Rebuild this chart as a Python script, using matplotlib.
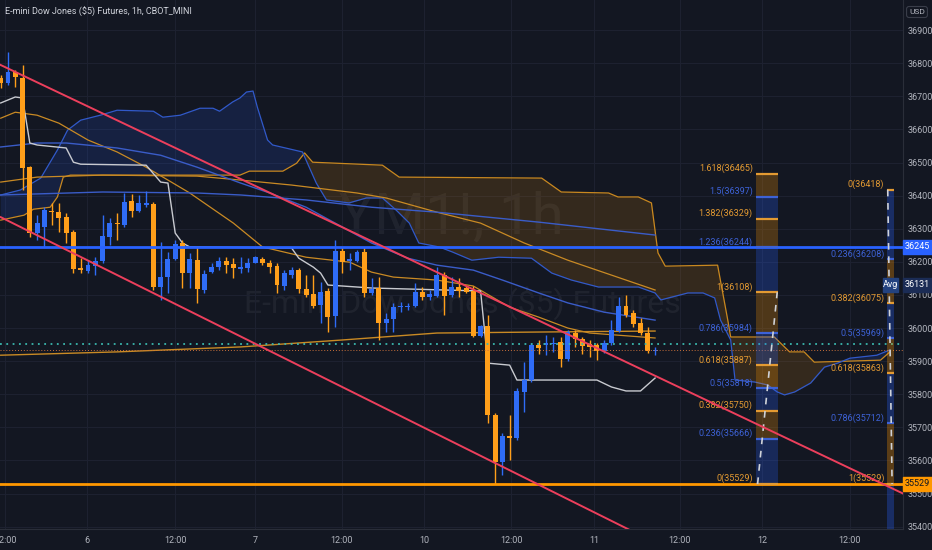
import numpy as np
import matplotlib
matplotlib.use('Agg')
import matplotlib.pyplot as plt
from matplotlib import font_manager as fm
from matplotlib.patches import Rectangle


def pick_font(names):
    for n in names:
        try:
            fm.findfont(n, fallback_to_default=False)
            return n
        except Exception:
            pass
    return 'DejaVu Sans'


NARROW = pick_font(['Liberation Sans Narrow', 'Roboto', 'DejaVu Sans'])
plt.rcParams['font.family'] = [NARROW, 'DejaVu Sans']

BG = '#131722'
BLUE = '#2962ff'
ORANGE = '#ff9800'
TXT = '#b2b5be'

# ---- candles (1h bars), index = bar number ----
opens = [36755, 36740, 36773, 36755, 36486, 36287, 36305, 36353, 36350, 36335,
         36290, 36181, 36172, 36187, 36202, 36275, 36317, 36311, 36384, 36353,
         36371, 36374, 36124, 36154, 36208, 36257, 36166, 36205, 36115, 36169,
         36184, 36202, 36193, 36178, 36181, 36196, 36208, 36196, 36187, 36127,
         36160, 36175, 36118, 36103, 36069, 36112, 36036, 36233, 36202, 36202,
         36230, 36106, 36121, 36015, 36027, 36063, 36063, 36066, 36109, 36094,
         36097, 36160, 36100, 36124, 36121, 36112, 35976, 36006, 35737, 35595,
         35674, 35668, 35807, 35843, 35949, 35949, 35952, 35958, 35906, 35985,
         35967, 35952, 35949, 35931, 35955, 35991, 36066, 36045, 36015, 35985, 35931]
highs = [36764, 36834, 36779, 36794, 36490, 36341, 36365, 36378, 36378, 36347,
         36296, 36211, 36205, 36214, 36341, 36332, 36347, 36408, 36405, 36402,
         36414, 36381, 36260, 36230, 36266, 36266, 36227, 36245, 36175, 36196,
         36214, 36214, 36211, 36214, 36211, 36217, 36214, 36205, 36196, 36175,
         36184, 36181, 36160, 36160, 36139, 36121, 36266, 36245, 36227, 36236,
         36245, 36151, 36154, 36045, 36076, 36079, 36076, 36136, 36124, 36115,
         36184, 36169, 36154, 36151, 36127, 36127, 36009, 36039, 35743, 35683,
         35737, 35819, 35897, 35955, 35964, 35979, 35973, 35973, 35994, 35994,
         35973, 35964, 35955, 35964, 36024, 36094, 36100, 36054, 36030, 36003, 35943]
lows = [36725, 36734, 36728, 36417, 36275, 36266, 36245, 36311, 36290, 36257,
        36166, 36166, 36166, 36160, 36196, 36251, 36266, 36305, 36335, 36350,
        36365, 36115, 36085, 36106, 36205, 36121, 36121, 36076, 36106, 36166,
        36175, 36166, 36151, 36166, 36169, 36196, 36190, 36166, 36106, 36115,
        36151, 36106, 36094, 36060, 36015, 35988, 36003, 36166, 36175, 36199,
        36094, 36100, 35964, 35988, 35988, 36048, 36054, 36063, 36085, 36085,
        36094, 36039, 36094, 36094, 36106, 35973, 35973, 35713, 35529, 35556,
        35601, 35662, 35746, 35837, 35921, 35918, 35928, 35882, 35900, 35943,
        35921, 35912, 35903, 35925, 35949, 35988, 36033, 36003, 35979, 35925, 35918]
closes = [36740, 36773, 36758, 36483, 36287, 36317, 36356, 36350, 36332, 36287,
          36178, 36175, 36190, 36202, 36278, 36317, 36314, 36381, 36353, 36378,
          36378, 36124, 36154, 36208, 36254, 36166, 36208, 36118, 36163, 36184,
          36202, 36190, 36181, 36184, 36196, 36214, 36196, 36184, 36130, 36166,
          36175, 36118, 36100, 36066, 36109, 36033, 36233, 36199, 36208, 36230,
          36106, 36118, 36015, 36027, 36063, 36066, 36066, 36109, 36094, 36103,
          36160, 36097, 36124, 36112, 36109, 35976, 36006, 35737, 35595, 35674,
          35668, 35810, 35843, 35949, 35940, 35955, 35955, 35906, 35988, 35967,
          35946, 35943, 35931, 35955, 35994, 36066, 36039, 36012, 35985, 35931, 35934]

# ---- indicator lines (bar, price) ----
ema_fast_x = [0, 2, 5, 8, 12, 16, 20, 26, 32, 36, 42, 48, 51, 54, 60, 65, 70, 74, 78, 81, 90]
ema_fast_p = [36634, 36652, 36643, 36619, 36568, 36532, 36486, 36408, 36317, 36245, 36214,
              36199, 36169, 36154, 36145, 36127, 36063, 36033, 36000, 35985, 35970]
ema_mid_x = [0, 5, 14, 27, 33, 40, 49, 53, 60, 66, 72, 78, 90]
ema_mid_p = [36441, 36456, 36462, 36459, 36447, 36432, 36408, 36393, 36350, 36317, 36257, 36205, 36115]
ema_slow_x = [0, 16, 33, 47, 60, 74, 90]
ema_slow_p = [35918, 35928, 35943, 35964, 35985, 35988, 35991]
blue_ma1_x = [0, 14, 27, 33, 42, 51, 60, 74, 90]
blue_ma1_p = [36402, 36411, 36408, 36402, 36387, 36365, 36350, 36320, 36281]
blue_ma2_x = [0, 5, 9, 16, 22, 27, 33, 37, 42, 47, 51, 56, 60, 65, 69, 74, 78, 83, 90]
blue_ma2_p = [36547, 36559, 36559, 36544, 36522, 36486, 36438, 36408, 36365, 36305, 36257,
              36211, 36190, 36175, 36145, 36106, 36076, 36048, 36024]
white_x = [0, 2, 3, 4, 5, 9, 10, 11, 20, 22, 23, 24, 25, 26, 40, 41, 43, 44, 45, 51,
           66, 67, 70, 71, 82, 84, 86, 88, 90]
white_p = [36680, 36698, 36695, 36559, 36553, 36544, 36501, 36495, 36492, 36441, 36438,
           36287, 36257, 36245, 36242, 36211, 36184, 36166, 36130, 36121, 36112, 35894,
           35888, 35843, 35843, 35822, 35810, 35810, 35849]

# cloud spans
span_a_x = [0, 3.2, 4.5, 6.8, 7.8, 8.6, 9.6, 32.9, 34.2, 38.8, 40.7, 41.8, 42.9, 52.5, 54.8,
            74.4, 77.1, 83.6, 84.9, 87.7, 89.5, 90.4, 91.4, 98.6, 100, 100.4, 106.4, 108.5,
            110.5, 111.9, 121, 122.3]
span_a_p = [36326, 36341, 36359, 36365, 36396, 36456, 36462, 36462, 36474, 36474, 36498,
            36529, 36501, 36492, 36456, 36453, 36411, 36408, 36396, 36396, 36378, 36227,
            36187, 36190, 36024, 35973, 35973, 35928, 35928, 35897, 35903, 35928]
span_b_x = [0, 2.7, 5.5, 7.8, 9.2, 11, 13.7, 16, 21, 22.3, 24.7, 27.4, 29.2, 30.1, 31.9, 32.9,
            33.8, 34.7, 35.3, 36.7, 37.4, 41.5, 43.4, 44.8, 47.9, 50.3, 52.5, 54.4, 56.2, 57.5,
            60.3, 62.1, 64.8, 68.5, 73, 75.8, 78.5, 82.2, 87.7, 90, 90.8, 94.5, 96.6, 98.2, 99,
            100.4, 101, 103.7, 105.5, 106.8, 107.8, 109.2, 111.4, 113.3, 115.1, 116.8, 120.5, 122.3]
span_b_p = [36402, 36417, 36453, 36538, 36598, 36628, 36643, 36658, 36655, 36637, 36643,
            36664, 36664, 36655, 36683, 36695, 36713, 36716, 36667, 36568, 36553, 36532,
            36438, 36387, 36378, 36393, 36393, 36356, 36317, 36257, 36245, 36230, 36205,
            36214, 36211, 36166, 36145, 36124, 36124, 36106, 36085, 36106, 36106, 36091,
            36024, 35964, 35843, 35837, 35828, 35807, 35798, 35807, 35834, 35882, 35894,
            35909, 35918, 35934]

# drawings
upper_trend_x = [-1, 124.5]
upper_trend_p = [36805, 35496]
lower_trend_x = [0, 90]
lower_trend_p = [36335, 35352]
level_blue = 36245
level_orange = 35529
vwap_level = 35952
last_price = 35934
avg_price = 36131

fib_left_ratio = ['1.618', '1.5', '1.382', '1.236', '1', '0.786', '0.618', '0.5', '0.382', '0.236', '0']
fib_left_price = [36465, 36397, 36329, 36244, 36108, 35984, 35887, 35818, 35750, 35666, 35529]
fib_right_ratio = ['0', '0.236', '0.382', '0.5', '0.618', '0.786', '1']
fib_right_price = [36418, 36208, 36075, 35969, 35863, 35712, 35529]
orange_ratios = {'1.618', '1.382', '1', '0.618', '0.382', '0'}

y_ticks = list(range(35400, 37000, 100))
x_tick_pos = [0.6, 11.9, 24, 35, 46.9, 58.2, 70.2, 81.6, 93.4, 104.7, 116.8]
x_tick_lab = ['12:00', '6', '12:00', '7', '12:00', '10', '12:00', '11', '12:00', '12', '12:00']

# ---- figure ----
fig = plt.figure(figsize=(9.32, 5.5), dpi=100, facecolor=BG)
ax = fig.add_axes([0, 21 / 550, 903 / 932, 529 / 550], facecolor=BG)
ax.set_xlim(-0.1, 124.1)
ax.set_ylim(35393, 36991)

for s in ['top', 'left']:
    ax.spines[s].set_visible(False)
for s in ['right', 'bottom']:
    ax.spines[s].set_color('#2a2e39')
ax.set_yticks(y_ticks)
ax.set_yticklabels([str(v) for v in y_ticks])
ax.set_xticks(x_tick_pos)
ax.set_xticklabels(x_tick_lab)
ax.yaxis.tick_right()
ax.tick_params(axis='both', length=0, colors=TXT, labelsize=6.5)
ax.tick_params(axis='y', pad=3)
ax.tick_params(axis='x', pad=5)
ax.grid(color='#1d2130', lw=0.8, zorder=0)
ax.set_axisbelow(True)

# watermark
ax.text(62.0, 36332, 'YM1!, 1h', fontsize=42, ha='center', va='center',
        color='white', alpha=0.055, zorder=0.5)
ax.text(63.5, 36075, 'E-mini Dow Jones ($5) Futures', fontsize=23, ha='center',
        va='center', color='white', alpha=0.055, zorder=0.5)

# cloud
xs = np.linspace(0, span_a_x[-1], 3000)
a = np.interp(xs, span_a_x, span_a_p)
b = np.interp(xs, span_b_x, span_b_p)
ax.fill_between(xs, a, b, where=b >= a, interpolate=True, color=BLUE, alpha=0.14, lw=0, zorder=1)
ax.fill_between(xs, a, b, where=a > b, interpolate=True, color=ORANGE, alpha=0.14, lw=0, zorder=1)
ax.plot(span_a_x, span_a_p, color='#c9881f', lw=0.9, zorder=2)
ax.plot(span_b_x, span_b_p, color='#3159c9', lw=0.9, zorder=2)

# moving averages
ax.plot(ema_fast_x, ema_fast_p, color='#c98a24', lw=0.9, zorder=3)
ax.plot(ema_mid_x, ema_mid_p, color='#c98a24', lw=0.9, zorder=3)
ax.plot(ema_slow_x, ema_slow_p, color='#c98a24', lw=1.0, zorder=3)
ax.plot(blue_ma1_x, blue_ma1_p, color='#3a5cc8', lw=1.0, zorder=3)
ax.plot(blue_ma2_x, blue_ma2_p, color='#3a5cc8', lw=1.0, zorder=3)
ax.plot(white_x, white_p, color='#c8cad0', lw=1.0, zorder=3)

# candles
o = np.array(opens)
h = np.array(highs)
l = np.array(lows)
c = np.array(closes)
idx = np.arange(len(o))
cols = np.where(c >= o, '#2f6cf6', '#ff9f1a')
ax.vlines(idx, l, h, colors=cols, lw=1, zorder=4)
ax.bar(idx, np.maximum(np.abs(c - o), 4), 0.68, bottom=np.minimum(o, c), color=cols, zorder=5)

# horizontal levels
ax.axhline(vwap_level, color='#3ab7ad', lw=1.3, ls=(0, (1, 2.5)), zorder=6)
ax.axhline(last_price, color='#c8703a', lw=0.7, ls=(0, (1, 2)), zorder=6)
ax.axhline(level_blue, color=BLUE, lw=2, zorder=7)
ax.axhline(level_orange, color=ORANGE, lw=2, zorder=7)

# fib box (left)
lx0, lx1 = 103.9, 106.9
for k in range(len(fib_left_price) - 1):
    fc = ORANGE if k % 2 == 0 else BLUE
    ax.add_patch(Rectangle((lx0, fib_left_price[k + 1]), lx1 - lx0,
                           fib_left_price[k] - fib_left_price[k + 1],
                           color=fc, alpha=0.25, lw=0, zorder=6))
for r, p in zip(fib_left_ratio, fib_left_price):
    col = '#e39a32' if r in orange_ratios else '#3d62d6'
    ax.hlines(p, lx0, lx1, color=col, lw=1.6, zorder=7)
    ax.text(lx0 - 0.45, p + 2, f'{r}({p})', ha='right', va='bottom', fontsize=6.5,
            color=col, zorder=8)
ax.plot([104.1, 106.8], [35529, 36108], color='#cfd2d8', lw=1.2, ls=(0, (4, 4)), zorder=8)

# fib box (right)
rx0, rx1 = 121.9, 122.9
for k in range(len(fib_right_price) - 1):
    fc = BLUE if k % 2 == 0 else ORANGE
    ax.add_patch(Rectangle((rx0, fib_right_price[k + 1]), rx1 - rx0,
                           fib_right_price[k] - fib_right_price[k + 1],
                           color=fc, alpha=0.3, lw=0, zorder=6))
ax.add_patch(Rectangle((rx0, 35393), rx1 - rx0, fib_right_price[-1] - 35393,
                       color=BLUE, alpha=0.3, lw=0, zorder=6))
for r, p in zip(fib_right_ratio, fib_right_price):
    col = '#e39a32' if r in orange_ratios else '#3d62d6'
    ax.hlines(p, rx0, rx1, color=col, lw=1.6, zorder=7)
    ax.text(rx0 - 0.35, p + 2, f'{r}({p})', ha='right', va='bottom', fontsize=6.5,
            color=col, zorder=8)
ax.plot([122.0, 122.6], [36418, 35529], color='#cfd2d8', lw=1.2, ls=(0, (4, 4)), zorder=8)

# trend channel
ax.plot(upper_trend_x, upper_trend_p, color='#ec3f5c', lw=1.4, zorder=9)
ax.plot(lower_trend_x, lower_trend_p, color='#ec3f5c', lw=1.4, zorder=9)

# price badges on the right scale
yt = ax.get_yaxis_transform()
bw = 29 / 903
bh = 14 / 0.3311


def badge(price, text, fc, tc, x0=1.0, w=bw):
    ax.add_patch(Rectangle((x0, price - bh / 2), w, bh, transform=yt, color=fc,
                           clip_on=False, zorder=20))
    ax.text(x0 + w / 2, price, text, transform=yt, ha='center', va='center',
            fontsize=6.5, color=tc, clip_on=False, zorder=21)


badge(level_blue, str(level_blue), BLUE, 'white')
badge(level_orange, str(level_orange), ORANGE, '#131722')
badge(avg_price, str(avg_price), '#1b2c55', 'white')
badge(avg_price, 'Avg', '#23427f', 'white', x0=883 / 903, w=15 / 903)

# title and currency tag
fig.text(5 / 932, 1 - 12 / 550, 'E-mini Dow Jones ($5) Futures, 1h, CBOT_MINI',
         color='#d1d4dc', fontsize=6.5, va='center', ha='left')
fig.text(917 / 932, 1 - 12 / 550, 'USD', color=TXT, fontsize=6, va='center', ha='center',
         bbox=dict(boxstyle='round,pad=0.3', fc=BG, ec='#3a3e4a', lw=0.8))

fig.savefig('out.png', dpi=100, facecolor=BG)
